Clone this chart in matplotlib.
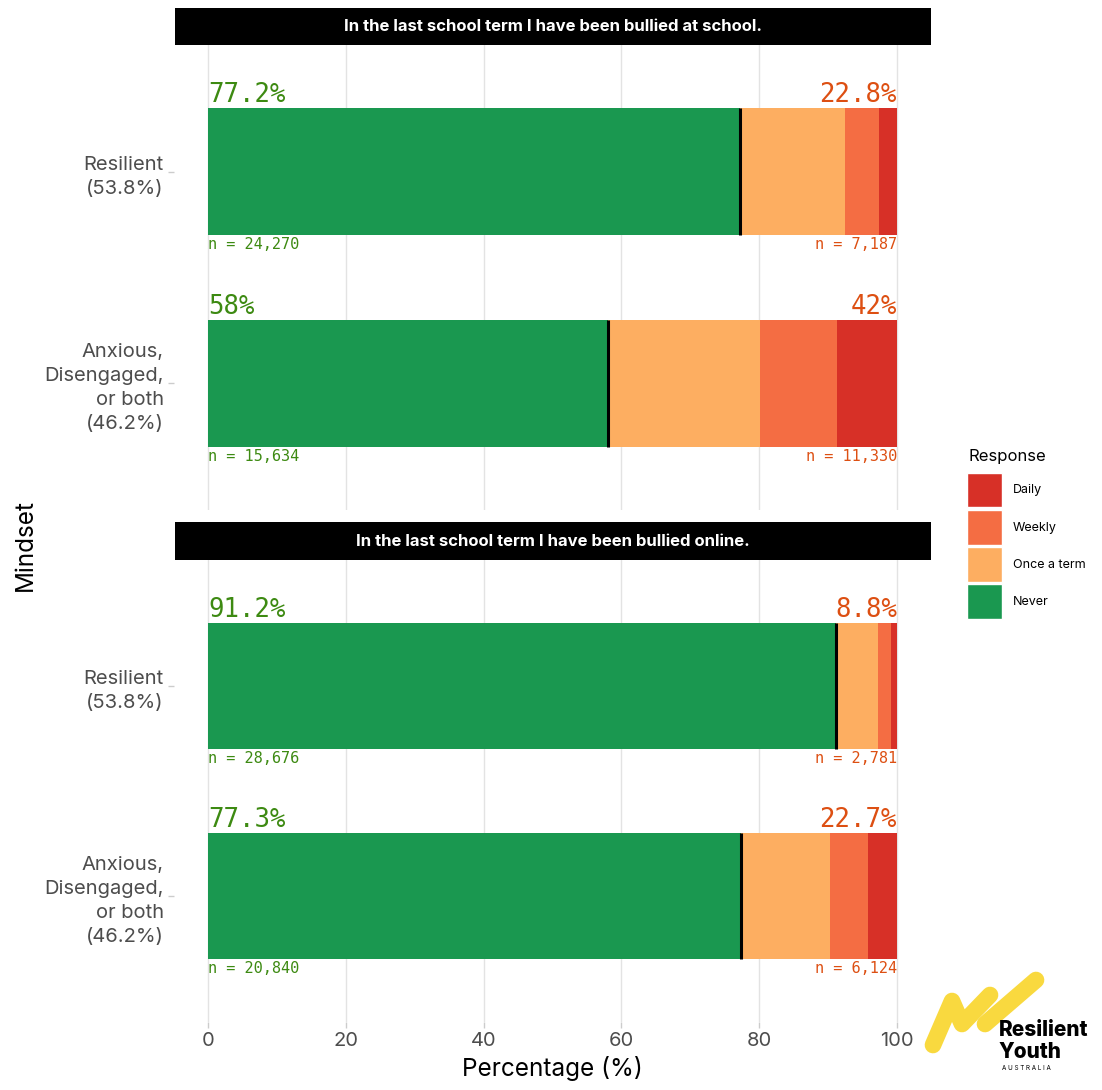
import matplotlib
matplotlib.use("Agg")
import matplotlib.pyplot as plt
from matplotlib.patches import Patch

# mindset groups and the two survey questions
groups = ["Resilient\n(53.8%)", "Anxious,\nDisengaged,\nor both\n(46.2%)"]
questions = ["In the last school term I have been bullied at school.",
             "In the last school term I have been bullied online."]

# percentages per response, one list per question (Resilient, Anxious)
never_school = [77.2, 58.0]
once_school = [15.3, 22.1]
weekly_school = [4.9, 11.2]
daily_school = [2.6, 8.7]

never_online = [91.2, 77.3]
once_online = [6.1, 13.0]
weekly_online = [1.8, 5.5]
daily_online = [0.9, 4.2]

# respondent counts: never vs. any bullying
n_never_school = [24270, 15634]
n_bullied_school = [7187, 11330]
n_never_online = [28676, 20840]
n_bullied_online = [2781, 6124]

responses = ["Never", "Once a term", "Weekly", "Daily"]
colors = {"Never": "#1a9850", "Once a term": "#fdae61",
          "Weekly": "#f46d43", "Daily": "#d73027"}
green_txt = "#3d8a12"
orange_txt = "#dd4f12"

plt.rcParams["font.family"] = ["Inter", "DejaVu Sans"]

W, H = 1102, 1090
fig = plt.figure(figsize=(W / 100, H / 100), dpi=100)


def box(x0, y0, x1, y1):
    # pixel box (top-left origin) -> figure rect
    return [x0 / W, 1 - y1 / H, (x1 - x0) / W, (y1 - y0) / H]


panels = [
    (questions[0], [never_school, once_school, weekly_school, daily_school],
     n_never_school, n_bullied_school, 8, 45, 510),
    (questions[1], [never_online, once_online, weekly_online, daily_online],
     n_never_online, n_bullied_online, 522, 560, 1022),
]

for i, (title, series, n_never, n_bullied, strip_top, top, bottom) in enumerate(panels):
    ax = fig.add_axes(box(173.5, top, 931.5, bottom))
    ypos = list(range(len(groups)))
    left = [0.0] * len(groups)
    for resp, vals in zip(responses, series):
        ax.barh(ypos, vals, left=left, height=0.6, color=colors[resp], zorder=2)
        left = [l + v for l, v in zip(left, vals)]

    never = series[0]
    bullied = [round(sum(s[j] for s in series[1:]), 1) for j in range(len(groups))]
    ax.vlines(never, [y - 0.3 for y in ypos], [y + 0.3 for y in ypos],
              color="black", lw=2.2, zorder=3)

    for j, y in enumerate(ypos):
        ax.text(0, y - 0.3, f"{never[j]:g}%", family="DejaVu Sans Mono",
                fontsize=18.5, color=green_txt, ha="left", va="bottom")
        ax.text(100, y - 0.3, f"{bullied[j]:g}%", family="DejaVu Sans Mono",
                fontsize=18.5, color=orange_txt, ha="right", va="bottom")
        ax.text(0, y + 0.31, f"n = {n_never[j]:,}", family="DejaVu Sans Mono",
                fontsize=11, color=green_txt, ha="left", va="top")
        ax.text(100, y + 0.31, f"n = {n_bullied[j]:,}", family="DejaVu Sans Mono",
                fontsize=11, color=orange_txt, ha="right", va="top")

    ax.set_xlim(-5, 105)
    ax.set_ylim(len(groups) - 0.4, -0.6)
    ax.set_xticks([0, 20, 40, 60, 80, 100])
    ax.set_yticks(ypos)
    ax.set_yticklabels(groups, fontsize=14.5, color="#4d4d4d", linespacing=1.42)
    ax.grid(axis="x", color="#e3e3e3", lw=1, zorder=0)
    for s in ax.spines.values():
        s.set_visible(False)
    ax.tick_params(axis="both", length=4, color="#cccccc", width=1)
    ax.tick_params(axis="y", pad=3)
    if i == 0:
        ax.tick_params(axis="x", labelbottom=False, length=0)
    else:
        ax.tick_params(axis="x", labelsize=14.5, labelcolor="#4d4d4d")
        ax.set_xlabel("Percentage (%)", fontsize=17.5, color="black", labelpad=4)

    # facet strip
    sax = fig.add_axes(box(175, strip_top, 931, top))
    sax.set_facecolor("black")
    sax.set_xticks([])
    sax.set_yticks([])
    for s in sax.spines.values():
        s.set_visible(False)
    sax.text(0.5, 0.5, title, color="white", fontsize=12, fontweight="bold",
             ha="center", va="center", transform=sax.transAxes)

fig.text(25 / W, 1 - 545 / H, "Mindset", rotation=90, fontsize=17.5,
         ha="center", va="center")

# legend: title placed separately so the keys sit a little lower
fig.text(968 / W, 1 - 456 / H, "Response", fontsize=12, ha="left", va="center")
handles = [Patch(facecolor=colors[r], edgecolor="white", lw=1)
           for r in reversed(responses)]
fig.legend(handles, list(reversed(responses)),
           loc="upper left", bbox_to_anchor=(954 / W, 1 - 460 / H),
           frameon=False, fontsize=9, borderpad=0.5,
           handlelength=2.8, handleheight=3.9, labelspacing=0.2,
           handletextpad=0.9, alignment="left")

# logo: yellow brush mark plus wordmark
lax = fig.add_axes(box(920, 965, 1102, 1085))
lax.set_xlim(920, 1102)
lax.set_ylim(1085, 965)
lax.axis("off")
lax.plot([933, 952, 962, 990], [1045, 1001, 1024, 995], color="#f9d93f",
         lw=12, solid_capstyle="round", solid_joinstyle="round")
lax.plot([985, 1036], [1024, 980], color="#f9d93f",
         lw=12, solid_capstyle="round")
lax.text(999, 1030, "Resilient", fontsize=15, fontweight="heavy", ha="left",
         va="center", color="black")
lax.text(999, 1052, "Youth", fontsize=15, fontweight="heavy", ha="left",
         va="center", color="black")
lax.text(1002, 1068, "A U S T R A L I A", fontsize=4.5, ha="left",
         va="center", color="black")

fig.savefig("out.png", dpi=100, facecolor="white")
